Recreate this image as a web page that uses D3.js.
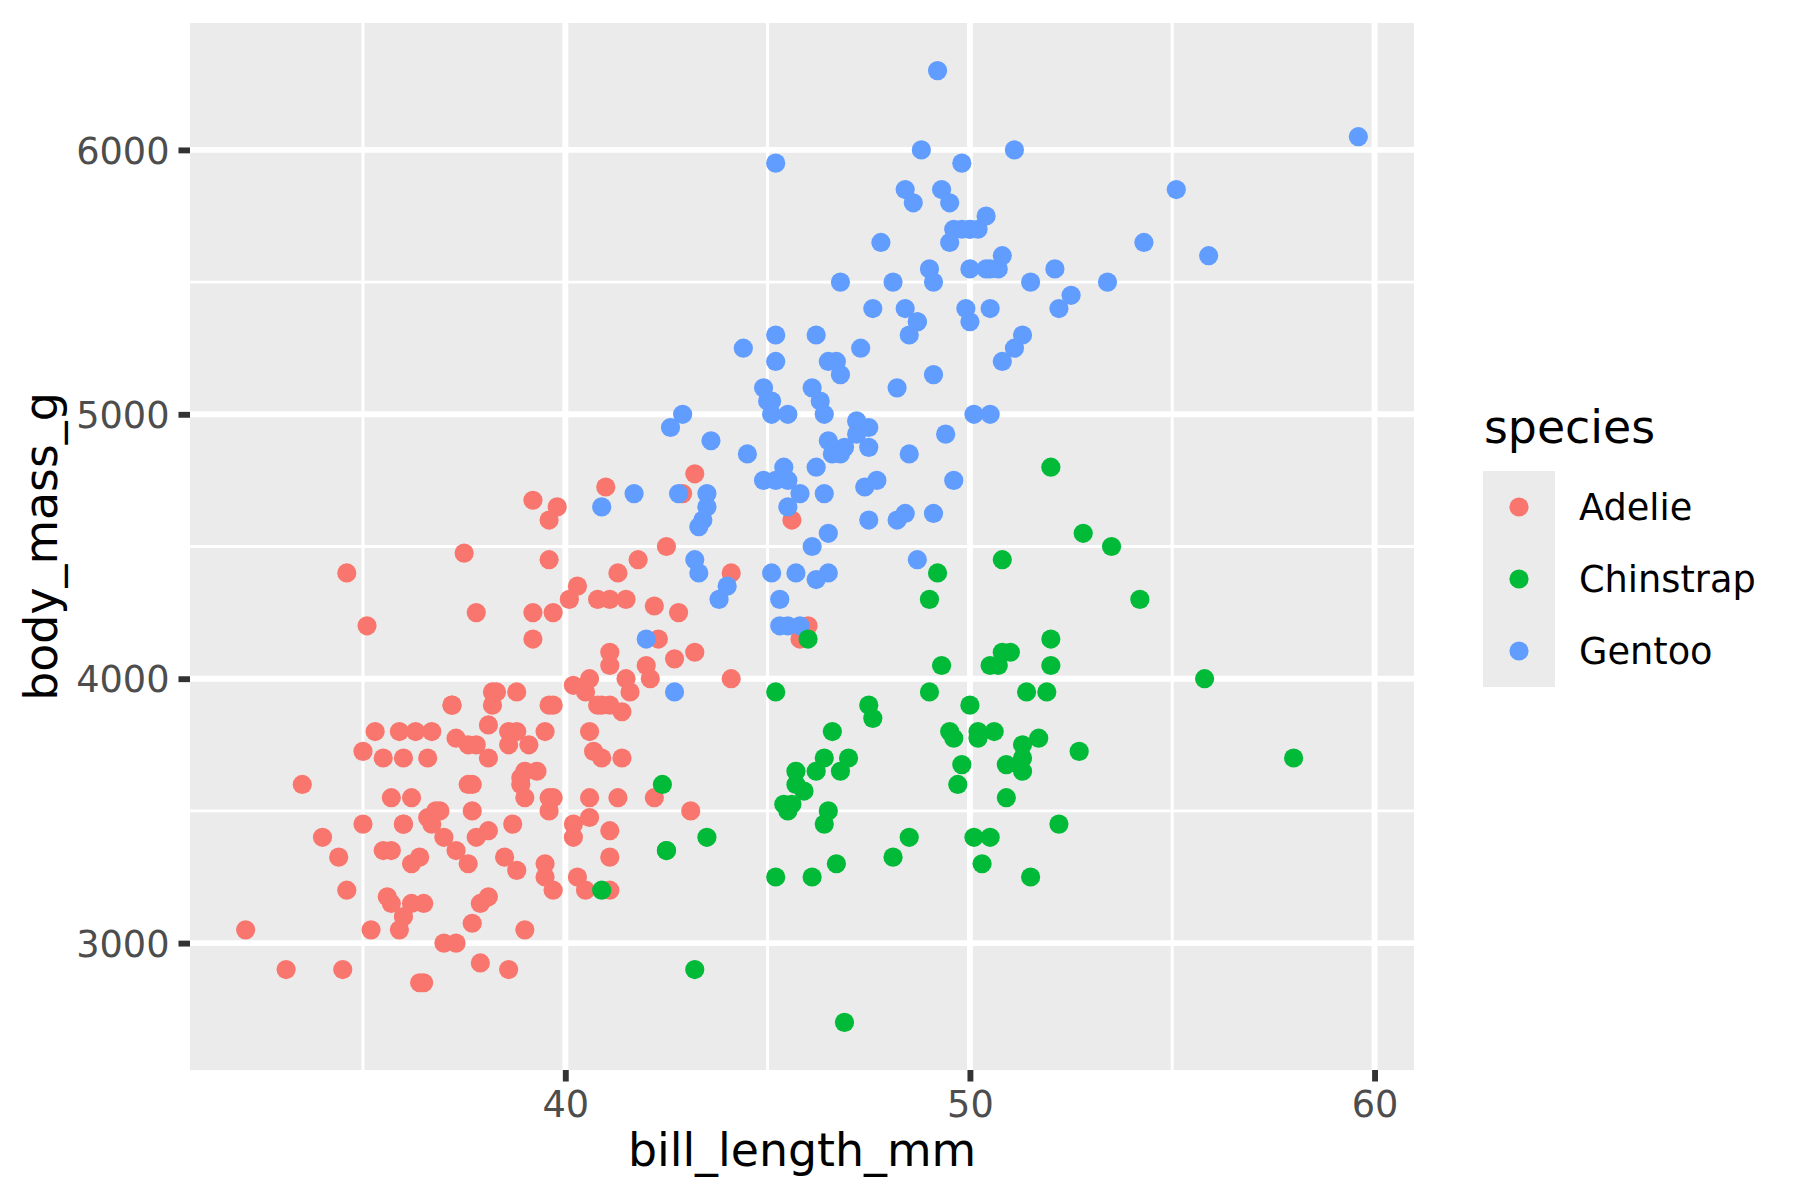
<!DOCTYPE html>
<html>
<head>
<meta charset="utf-8">
<script src="https://cdn.jsdelivr.net/npm/d3@7"></script>
<style>
  html, body { margin: 0; padding: 0; background: #fff; }
  svg { display: block; font-family: "DejaVu Sans", sans-serif; }
</style>
</head>
<body>
<svg id="chart"></svg>
<script>
// ─── Data (palmer penguins, complete rows: bill_length_mm vs body_mass_g) ──
const species = ["Adelie", "Chinstrap", "Gentoo"];

const adelieBill = [39.1,39.5,40.3,36.7,39.3,38.9,39.2,41.1,38.6,34.6,36.6,38.7,42.5,34.4,46.0,37.8,
  37.7,35.9,38.2,38.8,35.3,40.6,40.5,37.9,40.5,39.5,37.2,39.5,40.9,36.4,39.2,38.8,42.2,37.6,39.8,36.5,
  40.8,36.0,44.1,37.0,39.6,41.1,36.0,42.3,39.6,40.1,35.0,42.0,34.5,41.4,39.0,40.6,36.5,37.6,35.7,
  41.3,37.6,41.1,36.4,41.6,35.5,41.1,35.9,41.8,33.5,39.7,39.6,45.8,35.5,42.8,40.9,37.2,36.2,42.1,34.6,
  42.9,36.7,35.1,37.3,41.3,36.3,36.9,38.3,38.9,35.7,41.1,34.0,39.6,36.2,40.8,38.1,40.3,33.1,43.2,35.0,
  41.0,37.7,37.8,37.9,39.7,38.6,38.2,38.1,43.2,38.1,45.6,39.7,42.2,39.6,42.7,38.6,37.3,35.7,41.1,36.2,
  37.7,40.2,41.4,35.2,40.6,38.8,41.5,39.0,44.1,38.5,43.1,36.8,37.5,38.1,41.1,35.6,40.2,37.0,39.7,40.2,
  40.6,32.1,40.7,37.3,39.0,39.2,36.6,36.0,37.8,36.0,41.5];
const adelieMass = [3750,3800,3250,3450,3650,3625,4675,3200,3800,4400,3700,3450,4500,3325,4200,3400,
  3600,3800,3950,3800,3800,3550,3200,3150,3950,3250,3900,3300,3900,3325,4150,3950,3550,3300,4650,3150,
  3900,3100,4400,3000,4600,3425,3450,4150,3500,4300,3450,4050,2900,3700,3550,3800,2850,3750,3150,
  4400,3600,4050,2850,3950,3350,4100,3050,4450,3600,3900,3550,4150,3700,4250,3700,3900,3550,4000,3200,
  4700,3800,4200,3350,3550,3800,3500,3950,3600,3550,4300,3400,4450,3300,4300,3700,4350,2900,4100,3725,
  4725,3075,4250,2925,3550,3750,3900,3175,4775,3825,4600,3200,4275,3900,4075,2900,3775,3350,3325,3150,
  3500,3450,3875,3050,4000,3275,4300,3050,4000,3325,3500,3500,4475,3425,3900,3175,3975,3400,4250,3400,
  3475,3050,3725,3000,3650,4250,3475,3450,3750,3700,4000];

const gentooBill = [46.1,50.0,48.7,50.0,47.6,46.5,45.4,46.7,43.3,46.8,40.9,49.0,45.5,48.4,45.8,49.3,42.0,49.2,46.2,48.7,
  50.2,45.1,46.5,46.3,42.9,46.1,47.8,48.2,50.0,47.3,42.8,45.1,59.6,49.1,48.4,42.6,44.4,44.0,48.7,
  42.7,49.6,45.3,49.6,50.5,43.6,45.5,50.5,44.9,45.2,46.6,48.5,45.1,50.1,46.5,45.0,43.8,45.5,43.2,50.4,
  45.3,46.2,45.7,54.3,45.8,49.8,49.5,43.5,50.7,47.7,46.4,48.2,46.5,46.4,48.6,47.5,51.1,45.2,45.2,
  49.1,52.5,47.4,50.0,44.9,50.8,43.4,51.3,47.5,52.1,47.5,52.2,45.5,49.5,44.5,50.8,49.4,46.9,48.4,51.1,
  48.5,55.9,47.2,49.1,46.8,41.7,53.4,43.3,48.1,50.5,49.8,43.5,51.5,46.2,55.1,48.8,47.2,46.8,
  50.4,45.2,49.9];
const gentooMass = [4500,5700,4450,5700,5400,4550,4800,5200,4400,5150,4650,5550,4650,5850,4200,5850,4150,6300,4800,5350,
  5700,5000,4400,5050,5000,5100,5650,4600,5550,5250,4700,5050,6050,5150,5400,4950,5250,4350,5350,
  3950,5700,4300,4750,5550,4900,4200,5400,5100,5300,4850,5300,4400,5000,4900,5050,4300,5000,4450,5550,
  4200,5300,4400,5650,4700,5700,5800,4700,5550,4750,5000,5100,5200,4700,5800,4600,6000,4750,5950,
  4625,5450,4725,5350,4750,5600,4600,5300,4875,5550,4950,5400,4750,5650,4850,5200,4925,4875,4625,5250,
  4850,5600,4975,5500,5500,4700,5500,4575,5500,5000,5950,4650,5500,4375,5850,6000,4925,4850,
  5750,5200,5400];

const chinstrapBill = [46.5,50.0,51.3,45.4,52.7,45.2,46.1,51.3,46.0,51.3,46.6,51.7,47.0,52.0,45.9,50.5,50.3,58.0,46.4,49.2,
  42.4,48.5,43.2,50.6,46.7,52.0,50.5,49.5,46.4,52.8,40.9,54.2,42.5,51.0,49.7,47.5,47.6,52.0,46.9,53.5,
  49.0,46.2,50.9,45.5,50.9,50.8,50.1,49.0,51.5,49.8,48.1,51.4,45.7,50.7,42.5,52.2,45.2,49.3,50.2,45.6,
  51.9,46.8,45.7,55.8,43.5,49.6,50.8,50.2];
const chinstrapMass = [3500,3900,3650,3525,3725,3950,3250,3750,4150,3700,3800,3775,3700,4050,3575,4050,3300,3700,3450,4400,
  3600,3400,2900,3800,3300,4150,3400,3800,3700,4550,3200,4300,3350,4100,3600,3900,3850,4800,2700,4500,
  3950,3650,3550,3500,3675,4450,3400,4300,3250,3675,3325,3950,3600,4050,3350,3450,3250,4050,3800,3525,
  3950,3650,3650,4000,3400,3775,4100,3775];

const xMajor = [40, 50, 60];
const xMinor = [35, 45, 55];
const yMajor = [3000, 4000, 5000, 6000];
const yMinor = [3500, 4500, 5500];

// ─── Layout ────────────────────────────────────────────────────────────────
const W = 1800, H = 1200;
const panel = { left: 190, top: 23, right: 1414, bottom: 1070 };
const colors = { Adelie: "#F8766D", Chinstrap: "#00BA38", Gentoo: "#619CFF" };

const svg = d3.select("#chart").attr("width", W).attr("height", H);

// dataset row order: Adelie, Gentoo, Chinstrap
const points = [];
adelieBill.forEach((b, i) => points.push({ sp: "Adelie", x: b, y: adelieMass[i] }));
gentooBill.forEach((b, i) => points.push({ sp: "Gentoo", x: b, y: gentooMass[i] }));
chinstrapBill.forEach((b, i) => points.push({ sp: "Chinstrap", x: b, y: chinstrapMass[i] }));

// ggplot-style 5% expansion
const xExt = d3.extent(points, d => d.x);
const yExt = d3.extent(points, d => d.y);
const xPad = (xExt[1] - xExt[0]) * 0.05;
const yPad = (yExt[1] - yExt[0]) * 0.05;

const x = d3.scaleLinear().domain([xExt[0] - xPad, xExt[1] + xPad]).range([panel.left, panel.right]);
const y = d3.scaleLinear().domain([yExt[0] - yPad, yExt[1] + yPad]).range([panel.bottom, panel.top]);

// ─── Panel background & grid ──────────────────────────────────────────────
svg.append("rect")
  .attr("x", panel.left).attr("y", panel.top)
  .attr("width", panel.right - panel.left)
  .attr("height", panel.bottom - panel.top)
  .attr("fill", "#EBEBEB");

const grid = svg.append("g");
grid.selectAll(".xminor").data(xMinor).join("line")
  .attr("class", "xminor")
  .attr("x1", d => x(d)).attr("x2", d => x(d))
  .attr("y1", panel.top).attr("y2", panel.bottom)
  .attr("stroke", "#fff").attr("stroke-width", 2.95);
grid.selectAll(".yminor").data(yMinor).join("line")
  .attr("class", "yminor")
  .attr("x1", panel.left).attr("x2", panel.right)
  .attr("y1", d => y(d)).attr("y2", d => y(d))
  .attr("stroke", "#fff").attr("stroke-width", 2.95);
grid.selectAll(".xmajor").data(xMajor).join("line")
  .attr("class", "xmajor")
  .attr("x1", d => x(d)).attr("x2", d => x(d))
  .attr("y1", panel.top).attr("y2", panel.bottom)
  .attr("stroke", "#fff").attr("stroke-width", 5.9);
grid.selectAll(".ymajor").data(yMajor).join("line")
  .attr("class", "ymajor")
  .attr("x1", panel.left).attr("x2", panel.right)
  .attr("y1", d => y(d)).attr("y2", d => y(d))
  .attr("stroke", "#fff").attr("stroke-width", 5.9);

// ─── Points ───────────────────────────────────────────────────────────────
svg.append("g").selectAll("circle").data(points).join("circle")
  .attr("cx", d => x(d.x))
  .attr("cy", d => y(d.y))
  .attr("r", 9.6)
  .attr("fill", d => colors[d.sp]);

// ─── Axes ─────────────────────────────────────────────────────────────────
const xAxis = svg.append("g")
  .attr("transform", `translate(0,${panel.bottom})`)
  .call(d3.axisBottom(x).tickValues(xMajor).tickSize(11.5).tickPadding(9).tickFormat(d3.format("d")));
const yAxis = svg.append("g")
  .attr("transform", `translate(${panel.left},0)`)
  .call(d3.axisLeft(y).tickValues(yMajor).tickSize(11.5).tickPadding(9).tickFormat(d3.format("d")));

[xAxis, yAxis].forEach(g => {
  g.select(".domain").remove();
  g.selectAll(".tick line").attr("stroke", "#333333").attr("stroke-width", 5.9);
  g.selectAll(".tick text")
    .attr("fill", "#4D4D4D")
    .attr("font-size", 36.7)
    .attr("font-family", "DejaVu Sans, sans-serif");
});
xAxis.selectAll(".tick text").attr("dy", null).attr("y", 47);
yAxis.selectAll(".tick text").attr("dy", "0.36em");

// axis titles
svg.append("text")
  .attr("x", (panel.left + panel.right) / 2)
  .attr("y", 1166)
  .attr("text-anchor", "middle")
  .attr("font-size", 45.8)
  .attr("fill", "#000")
  .text("bill_length_mm");

svg.append("text")
  .attr("transform", `translate(57,${(panel.top + panel.bottom) / 2}) rotate(-90)`)
  .attr("text-anchor", "middle")
  .attr("font-size", 45.8)
  .attr("fill", "#000")
  .text("body_mass_g");

// ─── Legend ───────────────────────────────────────────────────────────────
const legend = svg.append("g").attr("transform", "translate(1483,471)");
const keySize = 72;

legend.append("text")
  .attr("x", 1).attr("y", -28)
  .attr("font-size", 45.8)
  .attr("fill", "#000")
  .text("species");

legend.append("rect")
  .attr("x", 0).attr("y", 0)
  .attr("width", keySize).attr("height", keySize * species.length)
  .attr("fill", "#EBEBEB");

const item = legend.selectAll(".item").data(species).join("g")
  .attr("class", "item")
  .attr("transform", (d, i) => `translate(0,${i * keySize})`);

item.append("circle")
  .attr("cx", keySize / 2).attr("cy", keySize / 2)
  .attr("r", 9.6)
  .attr("fill", d => colors[d]);

item.append("text")
  .attr("x", 96).attr("y", keySize / 2 + 13)
  .attr("font-size", 36.7)
  .attr("fill", "#000")
  .text(d => d);
</script>
</body>
</html>
